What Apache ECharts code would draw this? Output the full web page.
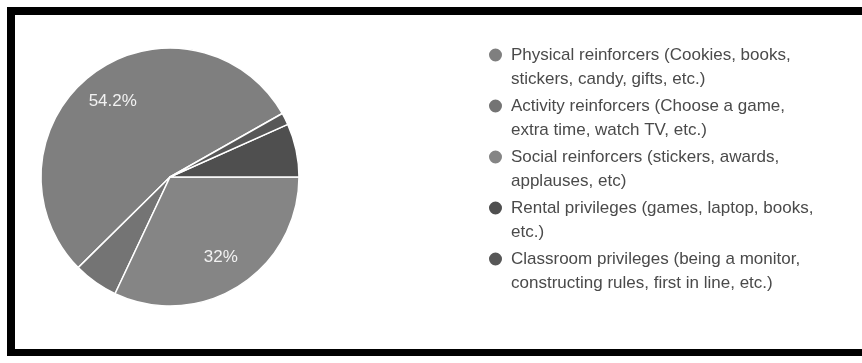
<!DOCTYPE html>
<html>
<head>
<meta charset="utf-8">
<script src="https://cdn.jsdelivr.net/npm/echarts@6/dist/echarts.min.js"></script>
<style>
  html, body { margin: 0; padding: 0; background: #fff; overflow: hidden; }
  #chart { position: absolute; left: 0; top: 0; width: 862px; height: 363px; }
  #frame { position: absolute; left: 7px; top: 7px; width: 847px; height: 334px;
           border-top: 8px solid #000; border-left: 8px solid #000; border-bottom: 7px solid #000;
           pointer-events: none; box-sizing: content-box; }
</style>
</head>
<body>
<div id="chart"></div>
<div id="frame"></div>
<script>
const categories = [
  'Physical reinforcers',
  'Activity reinforcers',
  'Social reinforcers',
  'Rental privileges',
  'Classroom privileges'
];
const legendLabels = [
  'Physical reinforcers (Cookies, books,\nstickers, candy, gifts, etc.)',
  'Activity reinforcers (Choose a game,\nextra time, watch TV, etc.)',
  'Social reinforcers (stickers, awards,\napplauses, etc)',
  'Rental privileges (games, laptop, books,\netc.)',
  'Classroom privileges (being a monitor,\nconstructing rules, first in line, etc.)'
];
const values = [54.2, 5.6, 32, 6.7, 1.5];
const colors = ['#7f7f7f', '#747474', '#858585', '#4f4f4f', '#575757'];

const chart = echarts.init(document.getElementById('chart'));
const pieData = categories.map((c, i) => ({ name: c, value: values[i], itemStyle: { color: colors[i] } }));
const labelData = categories.map((c, i) => ({ name: c, value: values[i] }));

chart.setOption({
  animation: false,
  legend: {
    orient: 'vertical',
    left: 487,
    top: 19,
    padding: 0,
    icon: 'circle',
    itemWidth: 15,
    itemHeight: 15,
    itemGap: -21,
    selectedMode: false,
    data: categories,
    // leading blank line keeps the first text line level with the marker
    formatter: name => '\n' + legendLabels[categories.indexOf(name)],
    textStyle: {
      fontFamily: 'Liberation Sans, Arial, sans-serif',
      fontSize: 17,
      color: '#4a4a4a',
      lineHeight: 24,
      padding: [0, 0, 0, 3]
    }
  },
  series: [
    {
      type: 'pie',
      center: [170, 177],
      radius: 129,
      startAngle: 29.5,
      clockwise: false,
      silent: true,
      label: { show: false },
      labelLine: { show: false },
      itemStyle: { borderColor: '#ffffff', borderWidth: 1.5 },
      data: pieData
    },
    {
      type: 'pie',
      center: [170, 177],
      radius: [55, 129],
      startAngle: 29.5,
      clockwise: false,
      silent: true,
      legendHoverLink: false,
      itemStyle: { color: 'rgba(0,0,0,0)', borderWidth: 0 },
      label: {
        show: true,
        position: 'inside',
        color: '#f2f2f2',
        fontFamily: 'Liberation Sans, Arial, sans-serif',
        fontSize: 17,
        formatter: p => (p.value >= 10 ? p.value + '%' : '')
      },
      labelLine: { show: false },
      data: labelData
    }
  ]
});
</script>
</body>
</html>
